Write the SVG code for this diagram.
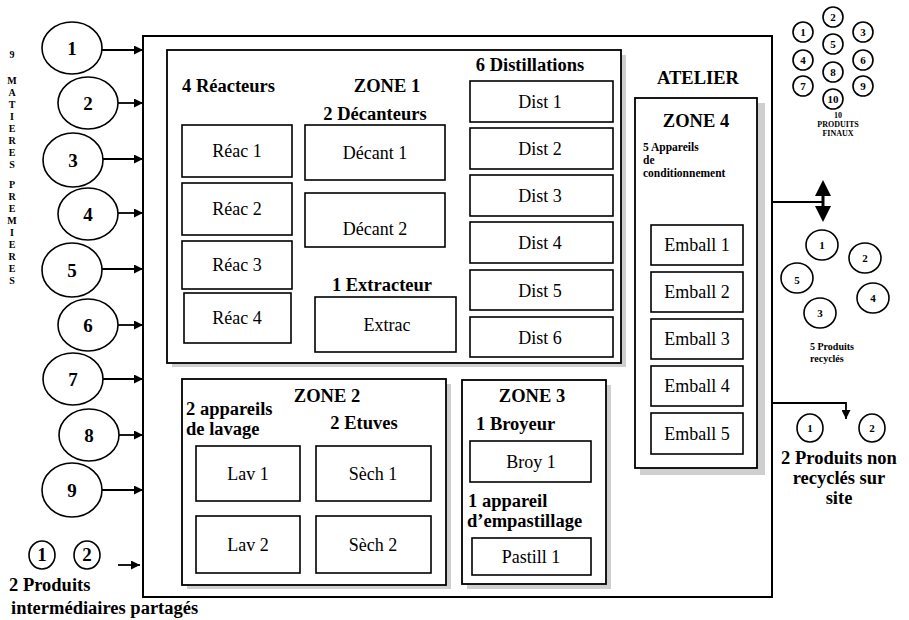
<svg xmlns="http://www.w3.org/2000/svg" width="909" height="620" viewBox="0 0 909 620">
<style>
text{font-family:"Liberation Serif","Times New Roman",serif;fill:#000}
.b{font-weight:bold}
.t{font-size:18.5px;font-weight:bold}
.lbl{font-size:18px;text-anchor:middle}
.box{fill:#fff;stroke:#000;stroke-width:1.6}
.zone{fill:#fff;stroke:#000;stroke-width:1.8}
.sh{fill:#cfcfcf}
.c{fill:#fff;stroke:#000;stroke-width:1.6}
.cn{font-size:19px;font-weight:bold;text-anchor:middle}
.sn{font-size:11px;font-weight:bold;text-anchor:middle}
.ln{stroke:#000;stroke-width:1.8;fill:none}
.vt{font-size:10px;font-weight:bold;text-anchor:middle}
</style>
<defs>
<marker id="ah" viewBox="0 0 10 10" refX="10" refY="5" markerWidth="5.5" markerHeight="5" orient="auto"><path d="M0,0 L10,5 L0,10 z" fill="#000"/></marker>
</defs>
<rect width="909" height="620" fill="#fff"/>

<g id="atelier">
<rect x="143" y="36" width="629" height="561" fill="#fff" stroke="#000" stroke-width="2"/>
<text x="698" y="84" class="t" text-anchor="middle" font-size="19.5">ATELIER</text>
</g>

<g id="zone1">
<rect class="sh" x="172" y="55" width="454" height="312"/>
<rect class="zone" x="167" y="50" width="454" height="313"/>
<text x="387" y="92" class="t" text-anchor="middle">ZONE 1</text>
<text x="182" y="92" class="t">4 Réacteurs</text>
<text x="530" y="71" class="t" text-anchor="middle">6 Distillations</text>
<text x="375" y="120" class="t" text-anchor="middle">2 Décanteurs</text>
<text x="382" y="291" class="t" text-anchor="middle">1 Extracteur</text>
</g>
<g id="reac1"><rect class="box" x="182" y="125" width="110" height="52"/><text class="lbl" x="237" y="157">Réac 1</text></g>
<g id="reac2"><rect class="box" x="182" y="183" width="110" height="52"/><text class="lbl" x="237" y="215">Réac 2</text></g>
<g id="reac3"><rect class="box" x="182" y="241" width="110" height="48"/><text class="lbl" x="237" y="271">Réac 3</text></g>
<g id="reac4"><rect class="box" x="184" y="293" width="107" height="50"/><text class="lbl" x="237" y="324">Réac 4</text></g>
<g id="decant1"><rect class="box" x="305" y="125" width="140" height="55"/><text class="lbl" x="375" y="159">Décant 1</text></g>
<g id="decant2"><rect class="box" x="305" y="193" width="140" height="54"/><text class="lbl" x="375" y="235">Décant 2</text></g>
<g id="extrac"><rect class="box" x="315" y="297" width="141" height="55"/><text class="lbl" x="387" y="331">Extrac</text></g>
<g id="dist1"><rect class="box" x="470" y="81" width="143" height="41"/><text class="lbl" x="540" y="108">Dist 1</text></g>
<g id="dist2"><rect class="box" x="470" y="128" width="143" height="41"/><text class="lbl" x="540" y="155">Dist 2</text></g>
<g id="dist3"><rect class="box" x="470" y="175" width="143" height="41"/><text class="lbl" x="540" y="202">Dist 3</text></g>
<g id="dist4"><rect class="box" x="470" y="222" width="143" height="41"/><text class="lbl" x="540" y="249">Dist 4</text></g>
<g id="dist5"><rect class="box" x="470" y="270" width="143" height="40"/><text class="lbl" x="540" y="297">Dist 5</text></g>
<g id="dist6"><rect class="box" x="470" y="317" width="143" height="40"/><text class="lbl" x="540" y="344">Dist 6</text></g>

<g id="zone2">
<rect class="sh" x="187" y="384" width="264" height="205"/>
<rect class="zone" x="182" y="379" width="264" height="206"/>
<text x="327" y="402" class="t" text-anchor="middle">ZONE 2</text>
<text x="186" y="415" class="t" font-size="17.5">2 appareils</text>
<text x="186" y="435" class="t" font-size="17.5">de lavage</text>
<text x="364" y="429" class="t" text-anchor="middle">2 Etuves</text>
</g>
<g id="lav1"><rect class="box" x="196" y="446" width="104" height="55"/><text class="lbl" x="248" y="480">Lav 1</text></g>
<g id="sech1"><rect class="box" x="316" y="446" width="115" height="55"/><text class="lbl" x="373" y="480">Sèch 1</text></g>
<g id="lav2"><rect class="box" x="196" y="516" width="104" height="57"/><text class="lbl" x="248" y="551">Lav 2</text></g>
<g id="sech2"><rect class="box" x="316" y="516" width="115" height="57"/><text class="lbl" x="373" y="551">Sèch 2</text></g>

<g id="zone3">
<rect class="sh" x="467" y="385" width="144" height="204"/>
<rect class="zone" x="462" y="380" width="144" height="204"/>
<text x="532" y="402" class="t" text-anchor="middle">ZONE 3</text>
<text x="476" y="430" class="t">1 Broyeur</text>
<text x="468" y="507" class="t">1 appareil</text>
<text x="467" y="527" class="t">d’empastillage</text>
</g>
<g id="broy1"><rect class="box" x="470" y="441" width="121" height="41"/><text class="lbl" x="531" y="468">Broy 1</text></g>
<g id="pastill1"><rect class="box" x="472" y="538" width="119" height="37"/><text class="lbl" x="531" y="563">Pastill 1</text></g>

<g id="zone4">
<rect class="sh" x="640" y="103" width="125" height="372"/>
<rect class="zone" x="635" y="98" width="122" height="370"/>
<text x="696" y="127" class="t" text-anchor="middle">ZONE 4</text>
<text x="643" y="151" font-size="11.5" class="b">5 Appareils</text>
<text x="643" y="164" font-size="11.5" class="b">de</text>
<text x="643" y="177" font-size="11.5" class="b">conditionnement</text>
</g>
<g id="emball1"><rect class="box" x="651" y="225" width="92" height="40"/><text class="lbl" x="697" y="251">Emball 1</text></g>
<g id="emball2"><rect class="box" x="651" y="272" width="92" height="40"/><text class="lbl" x="697" y="298">Emball 2</text></g>
<g id="emball3"><rect class="box" x="651" y="319" width="92" height="40"/><text class="lbl" x="697" y="345">Emball 3</text></g>
<g id="emball4"><rect class="box" x="651" y="366" width="92" height="40"/><text class="lbl" x="697" y="392">Emball 4</text></g>
<g id="emball5"><rect class="box" x="651" y="413" width="92" height="41"/><text class="lbl" x="697" y="440">Emball 5</text></g>

<g id="matieres">
<text x="12" y="58" class="vt">9</text>
<text class="vt" x="12" y="84">M</text><text class="vt" x="12" y="96">A</text><text class="vt" x="12" y="108">T</text><text class="vt" x="12" y="120">I</text><text class="vt" x="12" y="132">E</text><text class="vt" x="12" y="144">R</text><text class="vt" x="12" y="156">E</text><text class="vt" x="12" y="168">S</text>
<text class="vt" x="12" y="188">P</text><text class="vt" x="12" y="200">R</text><text class="vt" x="12" y="212">E</text><text class="vt" x="12" y="224">M</text><text class="vt" x="12" y="236">I</text><text class="vt" x="12" y="248">E</text><text class="vt" x="12" y="260">R</text><text class="vt" x="12" y="272">E</text><text class="vt" x="12" y="284">S</text>
</g>
<g id="m1"><ellipse class="c" cx="72" cy="48" rx="30" ry="26"/><text class="cn" x="72" y="55">1</text></g>
<g id="m2"><ellipse class="c" cx="88" cy="103" rx="30" ry="26"/><text class="cn" x="88" y="110">2</text></g>
<g id="m3"><ellipse class="c" cx="73" cy="160" rx="30" ry="27"/><text class="cn" x="73" y="167">3</text></g>
<g id="m4"><ellipse class="c" cx="88" cy="214" rx="30" ry="26"/><text class="cn" x="88" y="221">4</text></g>
<g id="m5"><ellipse class="c" cx="72" cy="270" rx="30" ry="27"/><text class="cn" x="72" y="277">5</text></g>
<g id="m6"><ellipse class="c" cx="88" cy="325" rx="30" ry="26"/><text class="cn" x="88" y="332">6</text></g>
<g id="m7"><ellipse class="c" cx="73" cy="379" rx="30" ry="26"/><text class="cn" x="73" y="386">7</text></g>
<g id="m8"><ellipse class="c" cx="89" cy="435" rx="30" ry="26"/><text class="cn" x="89" y="442">8</text></g>
<g id="m9"><ellipse class="c" cx="72" cy="490" rx="30" ry="27"/><text class="cn" x="72" y="497">9</text></g>

<g id="intermediaires">
<ellipse class="c" cx="42" cy="555" rx="13" ry="14"/><text class="cn" x="42" y="561" font-size="17">1</text>
<ellipse class="c" cx="87" cy="555" rx="13" ry="14"/><text class="cn" x="87" y="561" font-size="17">2</text>
<text x="9" y="591" class="t">2 Produits</text>
<text x="11" y="614" class="t">intermédiaires partagés</text>
</g>

<g id="finaux">
<circle class="c" cx="833" cy="17" r="10"/><text class="sn" x="833" y="21">2</text>
<circle class="c" cx="803" cy="32" r="10"/><text class="sn" x="803" y="36">1</text>
<circle class="c" cx="863" cy="32" r="10"/><text class="sn" x="863" y="36">3</text>
<circle class="c" cx="833" cy="44" r="10"/><text class="sn" x="833" y="48">5</text>
<circle class="c" cx="803" cy="60" r="10"/><text class="sn" x="803" y="64">4</text>
<circle class="c" cx="863" cy="60" r="10"/><text class="sn" x="863" y="64">6</text>
<circle class="c" cx="833" cy="72" r="10"/><text class="sn" x="833" y="76">8</text>
<circle class="c" cx="803" cy="86" r="10"/><text class="sn" x="803" y="90">7</text>
<circle class="c" cx="863" cy="86" r="10"/><text class="sn" x="863" y="90">9</text>
<circle class="c" cx="833" cy="99" r="10"/><text class="sn" x="833" y="103" font-size="10">10</text>
<text x="838" y="118" font-size="8" class="b" text-anchor="middle">10</text>
<text x="838" y="127" font-size="8" class="b" text-anchor="middle">PRODUITS</text>
<text x="838" y="136" font-size="8" class="b" text-anchor="middle">FINAUX</text>
</g>

<g id="recycles">
<ellipse class="c" cx="822" cy="245" rx="16" ry="15"/><text class="sn" x="822" y="249" font-size="10">1</text>
<ellipse class="c" cx="865" cy="258" rx="16" ry="15"/><text class="sn" x="865" y="262" font-size="10">2</text>
<ellipse class="c" cx="797" cy="278" rx="16" ry="15"/><text class="sn" x="797" y="284" font-size="17" font-weight="normal">5</text>
<ellipse class="c" cx="873" cy="298" rx="16" ry="15"/><text class="sn" x="873" y="302" font-size="10">4</text>
<ellipse class="c" cx="820" cy="313" rx="16" ry="15"/><text class="sn" x="820" y="317" font-size="10">3</text>
<text x="810" y="350" font-size="10" class="b">5 Produits</text>
<text x="810" y="362" font-size="10" class="b">recyclés</text>
</g>

<g id="nonrecycles">
<ellipse class="c" cx="810" cy="428" rx="13" ry="14"/><text class="sn" x="810" y="432" font-size="10">1</text>
<ellipse class="c" cx="872" cy="428" rx="13" ry="14"/><text class="sn" x="872" y="432" font-size="10">2</text>
<text x="839" y="464" class="t" text-anchor="middle" font-size="19">2 Produits non</text>
<text x="839" y="484" class="t" text-anchor="middle" font-size="19">recyclés sur</text>
<text x="839" y="504" class="t" text-anchor="middle" font-size="19">site</text>
</g>

<g id="connectors">
<line class="ln" x1="102" y1="50" x2="143" y2="50" marker-end="url(#ah)"/>
<line class="ln" x1="118" y1="103" x2="143" y2="103" marker-end="url(#ah)"/>
<line class="ln" x1="103" y1="159" x2="143" y2="159" marker-end="url(#ah)"/>
<line class="ln" x1="118" y1="213" x2="143" y2="213" marker-end="url(#ah)"/>
<line class="ln" x1="102" y1="269" x2="143" y2="269" marker-end="url(#ah)"/>
<line class="ln" x1="118" y1="325" x2="143" y2="325" marker-end="url(#ah)"/>
<line class="ln" x1="103" y1="379" x2="143" y2="379" marker-end="url(#ah)"/>
<line class="ln" x1="119" y1="435" x2="143" y2="435" marker-end="url(#ah)"/>
<line class="ln" x1="102" y1="490" x2="143" y2="490" marker-end="url(#ah)"/>
<line class="ln" x1="118" y1="565" x2="140" y2="565" marker-end="url(#ah)"/>
<line class="ln" x1="773" y1="202" x2="823" y2="202"/>
<line stroke="#000" stroke-width="3" x1="823" y1="192" x2="823" y2="210"/>
<path d="M815,196 L823,180 L831,196 Z M815,206 L823,222 L831,206 Z" fill="#000"/>
<polyline class="ln" points="773,403 846,403 846,419" marker-end="url(#ah)"/>
</g>
</svg>
